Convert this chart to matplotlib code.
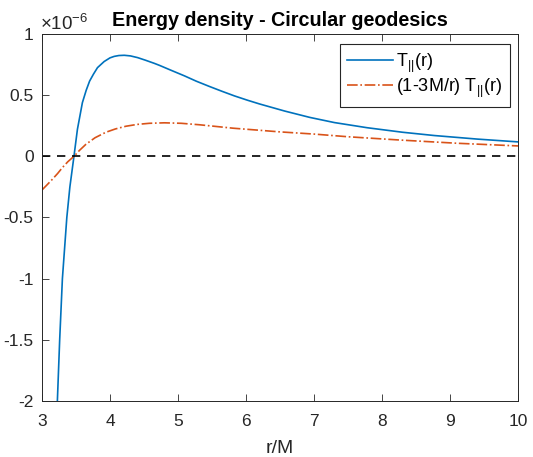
import matplotlib
matplotlib.use("Agg")
import matplotlib.pyplot as plt
import numpy as np

plt.rcParams['font.family'] = ['Liberation Sans', 'DejaVu Sans']
plt.rcParams['mathtext.fontset'] = 'custom'
plt.rcParams['mathtext.rm'] = 'Liberation Sans'
plt.rcParams['mathtext.it'] = 'Liberation Sans'

# Data (values in units of 1e-6)
r_T = [3.226, 3.26, 3.30, 3.365, 3.41, 3.47, 3.521, 3.594, 3.65, 3.70, 3.757,
       3.816, 3.914, 4.00, 4.062, 4.13, 4.21, 4.30, 4.406, 4.52, 4.652, 4.726,
       4.90, 5.094, 5.27, 5.463, 5.65, 5.83, 6.02, 6.20, 6.57, 6.94, 7.3, 7.78,
       8.3, 8.77, 9.4, 10.0]
T_par = [-2.0, -1.5, -1.0, -0.5, -0.25, 0.0, 0.221, 0.439, 0.54, 0.615, 0.672,
         0.725, 0.775, 0.805, 0.817, 0.824, 0.826, 0.821, 0.807, 0.786, 0.760,
         0.744, 0.703, 0.658, 0.614, 0.571, 0.531, 0.494, 0.459, 0.428, 0.370,
         0.318, 0.276, 0.234, 0.197, 0.170, 0.141, 0.118]

r_W = [3.0, 3.076, 3.152, 3.23, 3.30, 3.38, 3.47, 3.55, 3.645, 3.78, 3.94,
       4.08, 4.234, 4.40, 4.578, 4.80, 5.05, 5.316, 5.81, 6.496, 7.0, 7.5,
       8.27, 9.1, 10.0]
W_par = [-0.275, -0.232, -0.188, -0.140, -0.092, -0.044, 0.0, 0.048, 0.098,
         0.152, 0.197, 0.224, 0.246, 0.261, 0.270, 0.274, 0.270, 0.258, 0.230,
         0.200, 0.182, 0.160, 0.133, 0.107, 0.085]

xticks = [3, 4, 5, 6, 7, 8, 9, 10]
yticks = [-2, -1.5, -1, -0.5, 0, 0.5, 1]
ytick_labels = ['-2', '-1.5', '-1', '-0.5', '0', '0.5', '1']

fig = plt.figure(figsize=(5.33, 4.57), dpi=100)
ax = fig.add_axes([42/533, 1-401/457, (518-42)/533, (401-34)/457])

gray = '#262626'
ax.plot(r_T, T_par, color='#0072BD', lw=1.2, label=r'T$_{||}$(r)')
ax.plot(r_W, W_par, color='#D95319', lw=1.2, ls='-.', label=r'(1-3M/r) T$_{||}$(r)')
ax.axhline(0, color='black', ls=(0, (5, 4)), lw=1.2)

ax.set_xlim(3, 10)
ax.set_ylim(-2, 1)
ax.set_xticks(xticks)
ax.set_yticks(yticks)
ax.set_yticklabels(ytick_labels)
ax.tick_params(direction='in', length=5, width=0.6, colors=gray, labelsize=12.5,
               top=True, right=False)
ax.tick_params(axis='x', pad=9)
ax.tick_params(axis='y', right=False, pad=6)
for s in ax.spines.values():
    s.set_color(gray)
    s.set_linewidth(0.7)

ax.set_xlabel('r/M', fontsize=14, color=gray, labelpad=8)
ax.set_title('Energy density - Circular geodesics', fontsize=14.2, fontweight='bold', pad=6)
ax.text(-0.005, 1.0, r'$\times10^{-6}$', transform=ax.transAxes, fontsize=13.5,
        color=gray, ha='left', va='bottom')

leg = ax.legend(loc='upper right', fontsize=13, fancybox=False, framealpha=1,
                edgecolor=gray, borderpad=0.42, handlelength=2.5, handletextpad=0.2,
                labelspacing=0.1, bbox_to_anchor=(0.983, 0.973), borderaxespad=0)
leg.get_frame().set_linewidth(0.8)

fig.savefig('out.png', dpi=100)
